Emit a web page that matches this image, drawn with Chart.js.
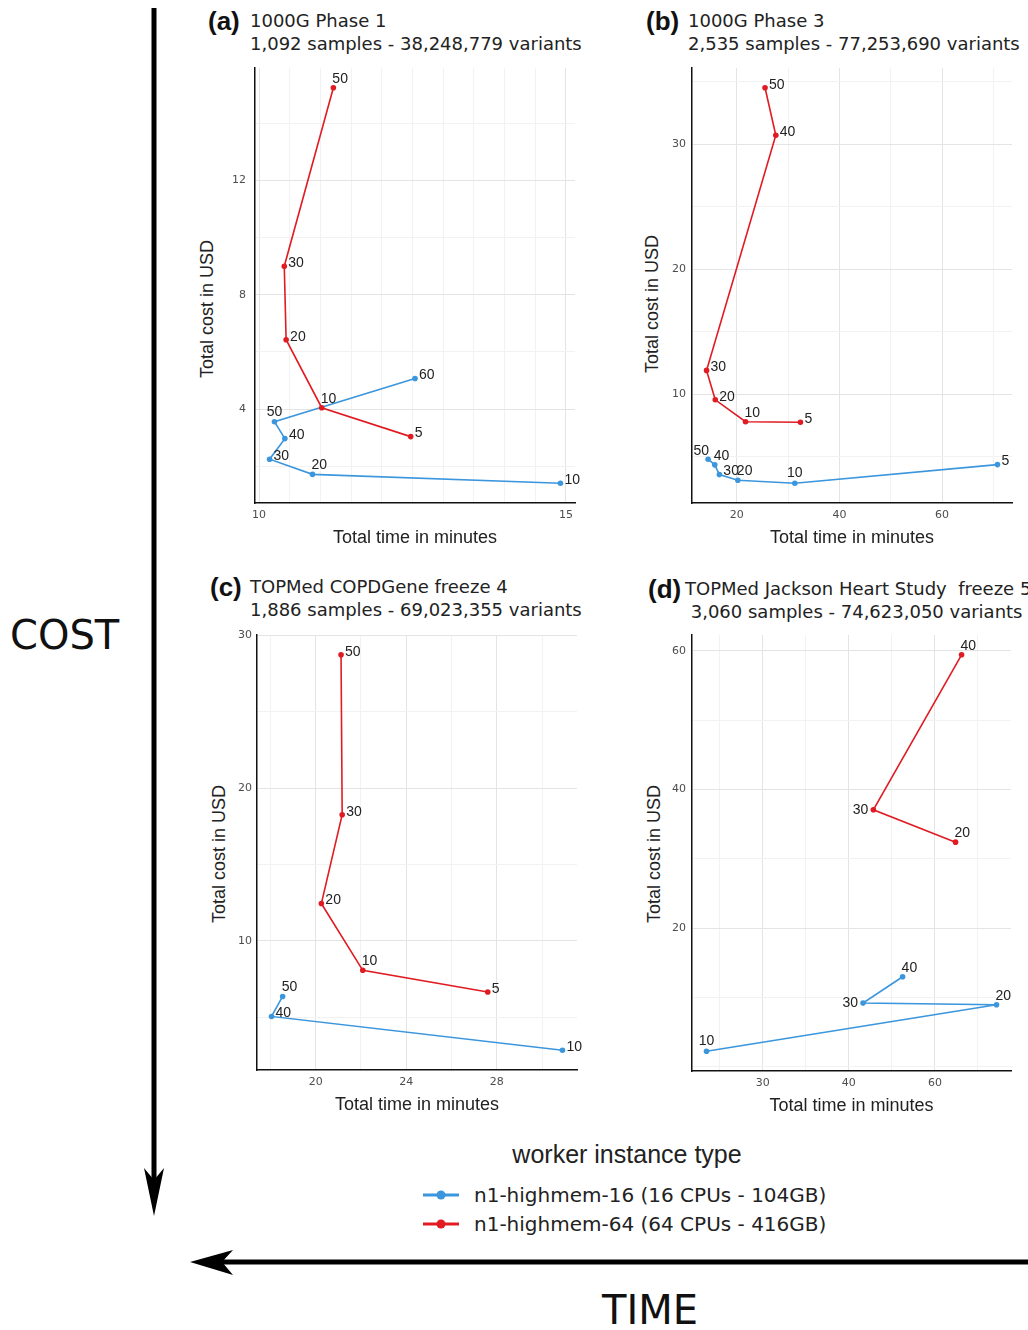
<!DOCTYPE html>
<html>
<head>
<meta charset="utf-8">
<script src="https://cdn.jsdelivr.net/npm/chart.js@4.4.1/dist/chart.umd.min.js"></script>
<style>
  html, body { margin: 0; padding: 0; background: #fff; }
  body { width: 1028px; height: 1330px; position: relative; overflow: hidden; font-family: "DejaVu Sans"; color: #222; }
  .box { position: absolute; }
  .tag { position: absolute; font-family: "Liberation Sans"; font-weight: bold; font-size: 26px; line-height: 28px; color: #111; }
  .ptitle { position: absolute; font-size: 18px; line-height: 23px; white-space: pre; color: #222; }
  .ytitle { position: absolute; font-family: "Liberation Sans"; font-size: 18px; white-space: nowrap; color: #222;
            transform: translate(-50%, -50%) rotate(-90deg); }
  .big { position: absolute; font-size: 40px; line-height: 46px; color: #111; }
  #legendTitle { position: absolute; left: 0; width: 1028px; padding-left: 226px; box-sizing: border-box; text-align: center;
                 top: 1139px; font-family: "Liberation Sans"; font-size: 25px; line-height: 30px; color: #222; }
  .legItem { position: absolute; left: 420px; height: 26px; font-size: 20px; line-height: 26px; white-space: pre; color: #222; }
  .legItem svg { position: absolute; left: 0; top: 0; }
  .legItem span { position: absolute; left: 54px; top: 0; }
  svg#arrows { position: absolute; left: 0; top: 0; }
</style>
</head>
<body>

<svg id="arrows" width="1028" height="1330">
  <line x1="154" y1="8" x2="154" y2="1186" stroke="#000" stroke-width="5"/>
  <polygon points="154,1216 144,1168 154,1180 164,1168" fill="#000"/>
  <line x1="1028" y1="1262" x2="218" y2="1262" stroke="#000" stroke-width="5"/>
  <polygon points="190,1262 233,1250 222,1262 233,1275" fill="#000"/>
</svg>
<div class="big" style="left:10px; top:612px;">COST</div>
<div class="big" style="left:602px; top:1287px;">TIME</div>

<div class="tag" style="left:208px; top:7px;">(a)</div>
<div class="ptitle" style="left:250px; top:9px;">1000G Phase 1
1,092 samples - 38,248,779 variants</div>
<div class="tag" style="left:646px; top:7px;">(b)</div>
<div class="ptitle" style="left:688px; top:9px;">1000G Phase 3
2,535 samples - 77,253,690 variants</div>
<div class="tag" style="left:210px; top:573px;">(c)</div>
<div class="ptitle" style="left:250px; top:575px;">TOPMed COPDGene freeze 4
1,886 samples - 69,023,355 variants</div>
<div class="tag" style="left:648px; top:575px;">(d)</div>
<div class="ptitle" style="left:685px; top:577px;">TOPMed Jackson Heart Study  freeze 5
 3,060 samples - 74,623,050 variants</div>

<div class="ytitle" style="left:207px; top:309px;">Total cost in USD</div>
<div class="ytitle" style="left:652px; top:304px;">Total cost in USD</div>
<div class="ytitle" style="left:219px; top:854px;">Total cost in USD</div>
<div class="ytitle" style="left:654px; top:854px;">Total cost in USD</div>

<div class="box" style="left:190px; top:48px;"><canvas id="chartA" width="400" height="507"></canvas></div>
<div class="box" style="left:627px; top:48px;"><canvas id="chartB" width="401" height="507"></canvas></div>
<div class="box" style="left:192px; top:615px;"><canvas id="chartC" width="400" height="507"></canvas></div>
<div class="box" style="left:627px; top:615px;"><canvas id="chartD" width="401" height="508"></canvas></div>

<div id="legendTitle">worker instance type</div>
<div id="legend"></div>

<script>
const seriesNames = ['n1-highmem-16 (16 CPUs - 104GB)', 'n1-highmem-64 (64 CPUs - 416GB)'];
const seriesColors = ['#3b96dd', '#e01c22'];

// (a) 1000G Phase 1 - labels are worker counts
const workersA16 = [10, 20, 30, 40, 50, 60];
const timeA16 = [14.91, 10.87, 10.17, 10.42, 10.25, 12.54];
const costA16 = [1.41, 1.72, 2.25, 2.97, 3.56, 5.07];
const workersA64 = [5, 10, 20, 30, 50];
const timeA64 = [12.47, 11.02, 10.44, 10.41, 11.21];
const costA64 = [3.04, 4.05, 6.43, 9.0, 15.24];

// (b) 1000G Phase 3
const workersB16 = [5, 10, 20, 30, 40, 50];
const timeB16 = [70.8, 31.3, 20.2, 16.6, 15.7, 14.4];
const costB16 = [4.37, 2.88, 3.12, 3.57, 4.35, 4.8];
const workersB64 = [5, 10, 20, 30, 40, 50];
const timeB64 = [32.4, 21.7, 15.8, 14.1, 27.6, 25.5];
const costB64 = [7.76, 7.8, 9.55, 11.9, 30.7, 34.5];

// (c) TOPMed COPDGene freeze 4
const workersC16 = [10, 40, 50];
const timeC16 = [30.9, 18.05, 18.54];
const costC16 = [2.85, 5.06, 6.37];
const workersC64 = [5, 10, 20, 30, 50];
const timeC64 = [27.6, 22.08, 20.25, 21.17, 21.12];
const costC64 = [6.66, 8.08, 12.45, 18.26, 28.73];

// (d) TOPMed Jackson Heart Study freeze 5
const workersD16 = [10, 20, 30, 40];
const timeD16 = [23.46, 57.16, 41.65, 46.25];
const costD16 = [2.27, 8.97, 9.2, 13.0];
const workersD64 = [20, 30, 40];
const timeD64 = [52.4, 42.85, 53.1];
const costD64 = [32.4, 37.07, 59.4];

// tick labels
const xTicksA = [10, 15];
const yTicksA = [4, 8, 12];
const xTicksB = [20, 40, 60];
const yTicksB = [10, 20, 30];
const xTicksC = [20, 24, 28];
const yTicksC = [10, 20, 30];
const xTicksD = [30, 40, 50];
const xTickLabelsD = ['30', '40', '60'];   // as printed in the figure
const yTicksD = [20, 40, 60];

// where each worker label sits next to its point
const placeOffsets = {
  r:  { align: 'left',   dx: 4,  dy: -3 },
  ur: { align: 'left',   dx: -1, dy: -9 },
  u:  { align: 'center', dx: 0,  dy: -10 },
  ul: { align: 'right',  dx: 1,  dy: -8 },
  l:  { align: 'right',  dx: -5, dy: 0 }
};

Chart.defaults.font.family = 'DejaVu Sans';

function expand(arrs) {
  const all = [].concat(...arrs);
  const lo = Math.min(...all), hi = Math.max(...all);
  const pad = (hi - lo) * 0.05;
  return [lo - pad, hi + pad];
}

function gridValues(min, max, step) {
  const out = [];
  for (let v = Math.ceil(min / step - 1e-9) * step; v <= max + 1e-9; v += step) {
    out.push(Math.round(v * 1000) / 1000);
  }
  return out;
}

function scaleOptions(range, step, majors, labels, isX, box) {
  const majorIndex = v => majors.findIndex(m => Math.abs(m - v) < 1e-6);
  return {
    type: 'linear',
    min: range[0],
    max: range[1],
    afterBuildTicks: s => { s.ticks = gridValues(range[0], range[1], step).map(v => ({ value: v })); },
    afterFit: s => { if (isX) s.height = box.xAxisH; else s.width = box.yAxisW; },
    ticks: {
      autoSkip: false,
      maxRotation: 0,
      padding: isX ? 6 : box.yTickPad,
      color: '#4d4d4d',
      font: { size: 11 },
      callback: v => {
        const i = majorIndex(v);
        if (i < 0) return '';
        return labels ? labels[i] : String(v);
      }
    },
    grid: {
      drawTicks: false,
      lineWidth: 1,
      color: c => (c.tick && majorIndex(c.tick.value) >= 0) ? '#e4e4e4' : '#f2f2f2'
    },
    border: { display: true, color: '#111', width: 1.5 },
    title: isX
      ? { display: true, text: 'Total time in minutes', color: '#222',
          font: { family: 'Liberation Sans', size: 18 }, padding: { top: 0, bottom: 6 } }
      : { display: false }
  };
}

const pointLabels = {
  id: 'pointLabels',
  afterDatasetsDraw(chart) {
    const ctx = chart.ctx;
    ctx.save();
    ctx.font = '14px "Liberation Sans"';
    ctx.fillStyle = '#222';
    ctx.textBaseline = 'middle';
    chart.data.datasets.forEach((ds, i) => {
      const meta = chart.getDatasetMeta(i);
      meta.data.forEach((pt, j) => {
        const o = placeOffsets[ds.places[j]];
        ctx.textAlign = o.align;
        ctx.fillText(String(ds.workers[j]), pt.x + o.dx, pt.y + o.dy);
      });
    });
    ctx.restore();
  }
};

function series(k, workers, time, cost, places) {
  return {
    label: seriesNames[k],
    data: time.map((t, i) => ({ x: t, y: cost[i] })),
    workers: workers,
    places: places,
    showLine: true,
    borderColor: seriesColors[k],
    backgroundColor: seriesColors[k],
    borderWidth: 1.6,
    pointRadius: 2.8,
    pointBorderWidth: 0,
    pointBackgroundColor: seriesColors[k],
    tension: 0,
    order: k === 0 ? 1 : 0
  };
}

function buildPanel(id, p) {
  const xr = expand([p.blue[1], p.red[1]]);
  const yr = expand([p.blue[2], p.red[2]]);
  new Chart(document.getElementById(id), {
    type: 'scatter',
    data: {
      datasets: [
        series(0, p.blue[0], p.blue[1], p.blue[2], p.blue[3]),
        series(1, p.red[0], p.red[1], p.red[2], p.red[3])
      ]
    },
    options: {
      responsive: false,
      animation: false,
      layout: { padding: { top: 20, right: p.box.padRight, left: 0, bottom: 0 } },
      plugins: { legend: { display: false }, tooltip: { enabled: false } },
      scales: {
        x: scaleOptions(xr, p.xStep, p.xTicks, p.xLabels, true, p.box),
        y: scaleOptions(yr, p.yStep, p.yTicks, null, false, p.box)
      }
    },
    plugins: [pointLabels]
  });
}

buildPanel('chartA', {
  blue: [workersA16, timeA16, costA16, ['r', 'ur', 'r', 'r', 'u', 'r']],
  red: [workersA64, timeA64, costA64, ['r', 'ur', 'r', 'r', 'ur']],
  xStep: 0.5, yStep: 2, xTicks: xTicksA, yTicks: yTicksA, xLabels: null,
  box: { yAxisW: 65, xAxisH: 52, padRight: 15, yTickPad: 9 }
});
buildPanel('chartB', {
  blue: [workersB16, timeB16, costB16, ['r', 'u', 'ur', 'r', 'ur', 'ul']],
  red: [workersB64, timeB64, costB64, ['r', 'ur', 'r', 'r', 'r', 'r']],
  xStep: 10, yStep: 5, xTicks: xTicksB, yTicks: yTicksB, xLabels: null,
  box: { yAxisW: 65, xAxisH: 52, padRight: 16, yTickPad: 6 }
});
buildPanel('chartC', {
  blue: [workersC16, timeC16, costC16, ['r', 'r', 'ur']],
  red: [workersC64, timeC64, costC64, ['r', 'ur', 'r', 'r', 'r']],
  xStep: 2, yStep: 5, xTicks: xTicksC, yTicks: yTicksC, xLabels: null,
  box: { yAxisW: 65, xAxisH: 52, padRight: 15, yTickPad: 5 }
});
buildPanel('chartD', {
  blue: [workersD16, timeD16, costD16, ['u', 'ur', 'l', 'ur']],
  red: [workersD64, timeD64, costD64, ['ur', 'l', 'ur']],
  xStep: 5, yStep: 10, xTicks: xTicksD, yTicks: yTicksD, xLabels: xTickLabelsD,
  box: { yAxisW: 65, xAxisH: 52, padRight: 17, yTickPad: 6 }
});

// legend
const legend = document.getElementById('legend');
seriesNames.forEach((name, k) => {
  const item = document.createElement('div');
  item.className = 'legItem';
  item.style.top = (1182 + k * 29) + 'px';
  item.innerHTML =
    '<svg width="44" height="26"><line x1="3" y1="13" x2="39" y2="13" stroke="' + seriesColors[k] +
    '" stroke-width="3"/><circle cx="21" cy="13" r="4.5" fill="' + seriesColors[k] + '"/></svg>';
  const span = document.createElement('span');
  span.textContent = name;
  item.appendChild(span);
  legend.appendChild(item);
});
</script>
</body>
</html>
